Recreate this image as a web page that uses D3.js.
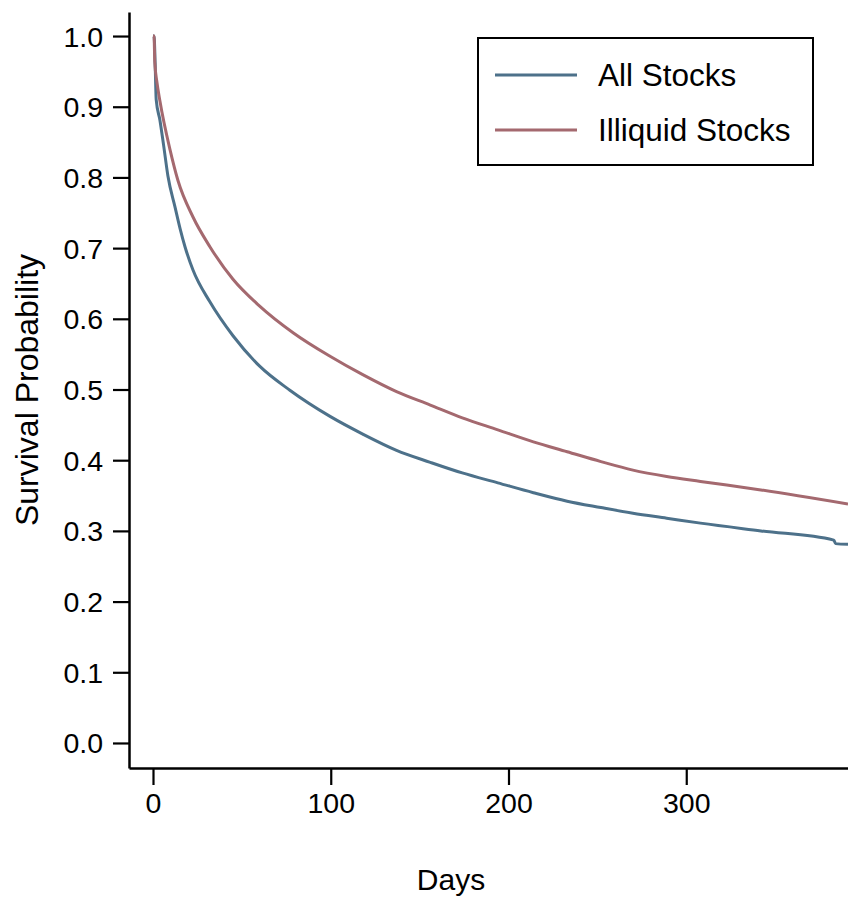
<!DOCTYPE html>
<html>
<head>
<meta charset="utf-8">
<script src="https://cdn.jsdelivr.net/npm/d3@7"></script>
<style>
  body { margin: 0; background: #fff; }
  svg { display: block; font-family: "Liberation Sans", Arial, sans-serif; }
</style>
</head>
<body>
<svg width="848" height="900"></svg>
<script>
// survival curves (days, probability)
const allDays = [0, 0.6, 1.2, 1.8, 3.9, 6, 8.4, 12.4, 15.2, 18, 22.5, 32, 45, 60, 77, 99.6,
  118, 137, 156, 174, 194, 214, 233, 252, 270, 289, 308, 342, 383, 384, 391];
const allSurv = [1.0, 1.0, 0.962, 0.91, 0.881, 0.845, 0.802, 0.758, 0.728, 0.702, 0.669, 0.624,
  0.576, 0.533, 0.499, 0.462, 0.437, 0.414, 0.397, 0.382, 0.368, 0.354, 0.342, 0.333, 0.325,
  0.318, 0.311, 0.30, 0.287, 0.282, 0.281];
const illiqDays = [0, 0.6, 1.0, 2.2, 3.9, 9.6, 14, 22.5, 32, 45, 60, 79, 99.6, 118, 137, 156,
  174, 194, 214, 233, 252, 270, 289, 308, 342, 391];
const illiqSurv = [1.0, 1.0, 0.963, 0.935, 0.908, 0.839, 0.796, 0.744, 0.702, 0.656, 0.618, 0.58,
  0.547, 0.521, 0.497, 0.478, 0.46, 0.443, 0.426, 0.412, 0.398, 0.386, 0.377, 0.37, 0.358, 0.338];

const xTicks = [0, 100, 200, 300];
const yTicks = [0, 0.1, 0.2, 0.3, 0.4, 0.5, 0.6, 0.7, 0.8, 0.9, 1.0];
const seriesNames = ['All Stocks', 'Illiquid Stocks'];
const colors = ['#4d718a', '#a4696f'];

const svg = d3.select('svg');

const x = d3.scaleLinear().domain([-13.5, 391]).range([129, 848]);
const y = d3.scaleLinear().domain([-0.0354, 1.034]).range([768, 12]);

// axes
const yAxis = svg.append('g')
  .attr('transform', 'translate(129,0)')
  .call(d3.axisLeft(y).tickValues(yTicks).tickFormat(d3.format('.1f'))
    .tickSize(16).tickSizeOuter(0).tickPadding(10));
const xAxis = svg.append('g')
  .attr('transform', 'translate(0,768)')
  .call(d3.axisBottom(x).tickValues(xTicks).tickFormat(d3.format('d'))
    .tickSize(17).tickSizeOuter(0).tickPadding(8));

[xAxis, yAxis].forEach((g) => {
  g.select('.domain').attr('stroke', '#000').attr('stroke-width', 2.5);
  g.selectAll('.tick line').attr('stroke', '#000').attr('stroke-width', 2.2);
  g.selectAll('.tick text')
    .attr('fill', '#000')
    .style('font-size', '28.5px')
    .style('font-family', '"Liberation Sans", Arial, sans-serif');
});
yAxis.selectAll('.tick text').attr('dy', '0.35em');

// axis titles
svg.append('text')
  .attr('x', 451)
  .attr('y', 890)
  .attr('text-anchor', 'middle')
  .style('font-size', '30px')
  .text('Days');
svg.append('text')
  .attr('transform', 'translate(38,390) rotate(-90)')
  .attr('text-anchor', 'middle')
  .style('font-size', '32px')
  .text('Survival Probability');

// curves
const line = d3.line()
  .curve(d3.curveMonotoneX)
  .x(d => x(d[0]))
  .y(d => y(d[1]));

const series = [
  d3.zip(allDays, allSurv),
  d3.zip(illiqDays, illiqSurv),
];

svg.selectAll('.curve')
  .data(series)
  .enter()
  .append('path')
  .attr('class', 'curve')
  .attr('d', line)
  .attr('fill', 'none')
  .attr('stroke', (d, i) => colors[i])
  .attr('stroke-width', 3);

// legend
const legend = svg.append('g');
legend.append('rect')
  .attr('x', 478)
  .attr('y', 38)
  .attr('width', 335)
  .attr('height', 127)
  .attr('fill', '#fff')
  .attr('stroke', '#000')
  .attr('stroke-width', 2);

const items = legend.selectAll('.item')
  .data(seriesNames)
  .enter()
  .append('g')
  .attr('class', 'item')
  .attr('transform', (d, i) => `translate(0,${75 + i * 55})`);
items.append('line')
  .attr('x1', 495)
  .attr('x2', 577)
  .attr('stroke', (d, i) => colors[i])
  .attr('stroke-width', 3);
items.append('text')
  .attr('x', 598)
  .attr('y', 11)
  .style('font-size', '31.5px')
  .text(d => d);
</script>
</body>
</html>
